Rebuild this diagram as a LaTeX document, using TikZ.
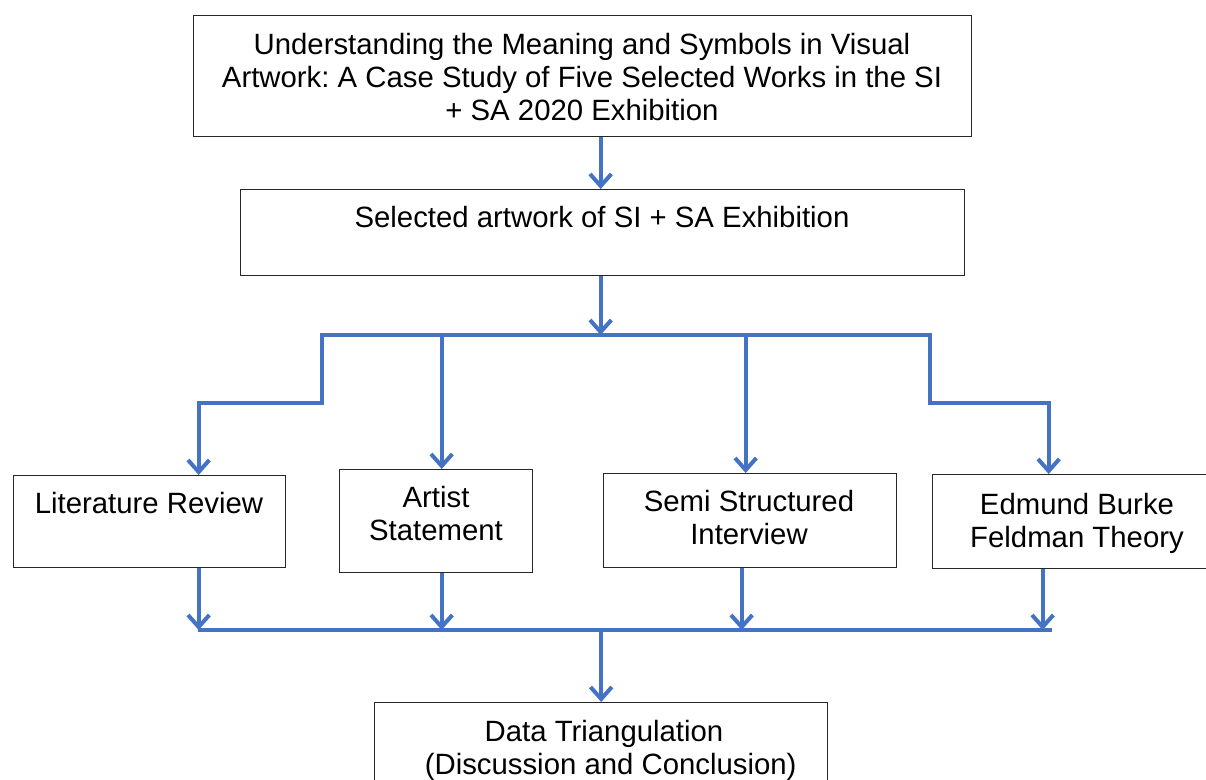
\documentclass[tikz,border=0pt]{standalone}
\usepackage{fontspec}
\setmainfont{Liberation Sans}
\usetikzlibrary{arrows.meta,calc}
\definecolor{flowblue}{HTML}{4472C4}
\frenchspacing
\begin{document}
\begin{tikzpicture}[x=0.75pt, y=-0.75pt,
    box/.style={draw=black!85, line width=1pt, anchor=north west, inner sep=0pt},
    txt/.style={align=center, inner sep=0pt, font=\fontsize{22pt}{24.75pt}\selectfont},
    flow/.style={draw=flowblue, line width=3pt, -{Straight Barb[length=9pt, width=16pt]}},
    bus/.style={draw=flowblue, line width=3pt}]
    \useasboundingbox (0,0) rectangle (1206,780);

    % Riquadri
    \node[box, minimum width=583.5pt, minimum height=90.75pt] (title) at (193,15) {};
    \node[box, minimum width=543pt, minimum height=64.5pt] (sel) at (240,189) {};
    \node[box, minimum width=204pt, minimum height=69pt] (lit) at (13,475) {};
    \node[box, minimum width=144.75pt, minimum height=77.25pt] (art) at (339,469) {};
    \node[box, minimum width=219.75pt, minimum height=70.5pt] (semi) at (603,473) {};
    \node[box, minimum width=217.5pt, minimum height=70.5pt] (edm) at (932,474) {};
    \node[box, minimum width=339.75pt, minimum height=75pt] (final) at (374,702) {};

    % Testi
    \node[txt] (titleT) at (582,77) {Understanding the Meaning and Symbols in Visual\\Artwork: A Case Study of Five Selected Works in the SI\\+ SA 2020 Exhibition};
    \node[txt] (selT) at (602,217) {Selected artwork of SI + SA Exhibition};
    \node[txt] (litT) at (149,503) {Literature Review};
    \node[txt] (artT) at (436,514) {Artist\\Statement};
    \node[txt] (semiT) at (749,518) {Semi Structured\\Interview};
    \node[txt] (edmT) at (1077,523) {Edmund Burke\\Feldman Theory};
    \node[txt] (finalT) at (604,750) {Data Triangulation\\\hspace*{10pt}(Discussion and Conclusion)};

    % Punti di aggancio
    \coordinate (tl) at (322,335);
    \coordinate (tr) at (930,335);
    \coordinate (bl) at (198,630);
    \coordinate (br) at (1052,630);
    \coordinate (selIn) at ($(sel.north)+(-2,0)$);
    \coordinate (selOut) at ($(sel.south)+(-2,0)$);
    \coordinate (artIn) at ($(art.north)+(5.5,0)$);
    \coordinate (semiIn) at ($(semi.north)+(-4.5,0)$);
    \coordinate (litOut) at ($(lit.south)+(49,0)$);
    \coordinate (artOut) at ($(art.south)+(5.5,0)$);
    \coordinate (semiOut) at ($(semi.south)+(-8.5,0)$);
    \coordinate (edmOut) at ($(edm.south)+(-35,0)$);

    % Frecce in alto
    \draw[flow] (selIn |- title.south) -- (selIn);
    \draw[flow] (selOut) -- (selOut |- tl);
    \draw[bus] ($(tl)+(0,-2)$) -- (tl) -- (tr) -- ($(tr)+(0,-2)$);

    % Diramazioni
    \draw[flow] (tl) -- ++(0,68) -| ($(lit.north)+(49,0)$);
    \draw[flow] (artIn |- tl) -- (artIn);
    \draw[flow] (semiIn |- tl) -- (semiIn);
    \draw[flow] (tr) -- ++(0,68) -| ($(edm.north)+(-29,0)$);

    % Raccolta in basso
    \draw[flow] (litOut) -- (litOut |- bl);
    \draw[flow] (artOut) -- (artOut |- bl);
    \draw[flow] (semiOut) -- (semiOut |- bl);
    \draw[flow] (edmOut) -- (edmOut |- bl);
    \draw[bus] (bl) -- (br);
    \draw[flow] (final.north |- bl) -- (final.north);

\end{tikzpicture}
\end{document}
